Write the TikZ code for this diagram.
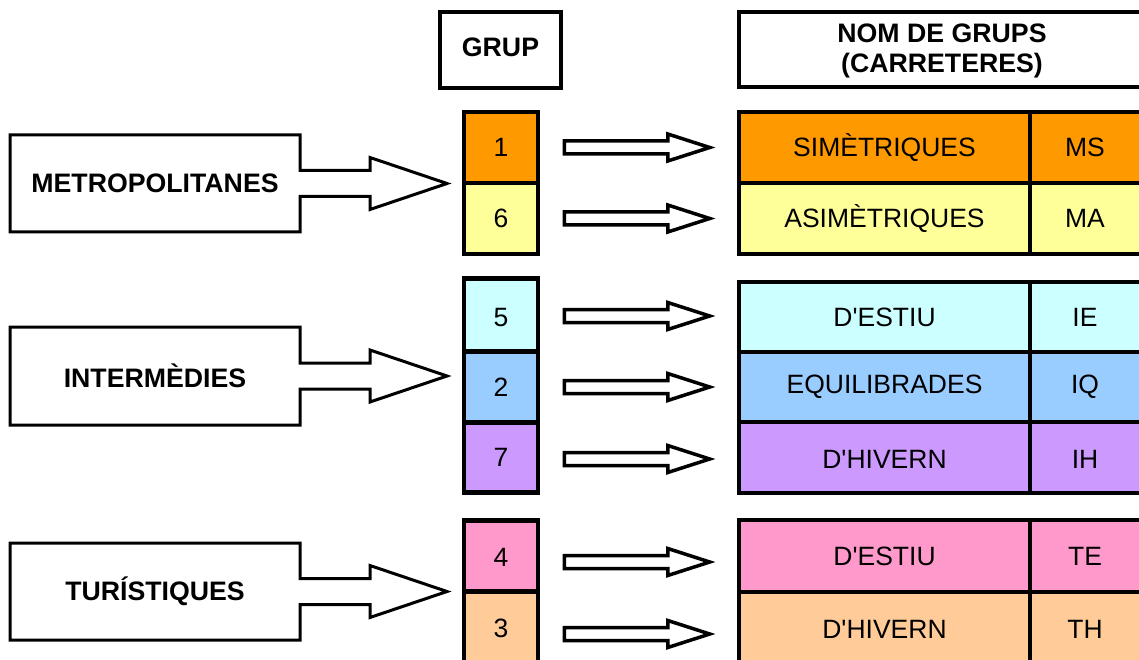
\documentclass[tikz,border=0pt]{standalone}
\usepackage{fontspec}
\setmainfont{Liberation Sans}[Ligatures=TeXOff]
\usetikzlibrary{calc}
\definecolor{cOrange}{HTML}{FF9900}
\definecolor{cYellow}{HTML}{FFFF99}
\definecolor{cCyan}{HTML}{CCFFFF}
\definecolor{cBlue}{HTML}{99CCFF}
\definecolor{cPurple}{HTML}{CC99FF}
\definecolor{cPink}{HTML}{FF99CC}
\definecolor{cPeach}{HTML}{FFCC99}
\tikzset{
  cell/.style={draw=black, line width=4.5pt, inner sep=0pt, font=\fontsize{26.5}{30}\selectfont},
  grpcell/.style={cell, minimum width=74pt},
  namecell/.style={cell, minimum width=291pt},
  codecell/.style={cell, minimum width=120pt},
  celltext/.style={font=\fontsize{26.5}{30}\selectfont, inner sep=0pt},
  headbox/.style={draw=black, line width=4pt, inner sep=0pt, align=center, font=\bfseries\fontsize{26.7}{30}\selectfont},
  callout/.style={draw=black, line width=3pt, fill=white, line join=miter},
  calltext/.style={font=\bfseries\fontsize{26.7}{30}\selectfont, inner sep=0pt},
  barr/.style={draw=black, line width=3.5pt, fill=white, line join=miter}
}
% block arrow from #1 to #2 (horizontal, same y as #1)
\newcommand\barrow[2]{%
  \draw[barr] let \p1=(#1), \p2=(#2) in
    (\x1,\y1+6.5pt) -- (\x2-42pt,\y1+6.5pt) -- (\x2-42pt,\y1+13.5pt) -- (\x2,\y1)
    -- (\x2-42pt,\y1-13.5pt) -- (\x2-42pt,\y1-6.5pt) -- (\x1,\y1-6.5pt) -- cycle;}
% callout box with arrow; #1 top y, #2 bottom y, #3 name
\newcommand\callout[3]{%
  \path let \n1={(#1+#2)/2} in
    coordinate (#3c) at (155,\n1);
  \draw[callout] let \n1={(#1+#2)/2} in
    (10,#1) -- (300,#1) -- (300,\n1-13) -- (370,\n1-13) -- (370,\n1-26)
    -- (447,\n1) -- (370,\n1+26) -- (370,\n1+13) -- (300,\n1+13) -- (300,#2)
    -- (10,#2) -- cycle;}
\begin{document}
\begin{tikzpicture}[x=1pt,y=-1pt]
\useasboundingbox (0,0) rectangle (1139,660);
\clip (0,0) rectangle (1139,660);
\fill[white] (0,0) rectangle (1139,660);

% headers
\node[headbox, minimum width=121pt, minimum height=76pt] (hgrup) at (500.5,50) {};
\node[calltext] (hgrupt) at (500.5,47.5) {GRUP};
\node[headbox, minimum width=420pt, minimum height=75pt] (hnom) at (949,50) {};
\node[font=\bfseries\fontsize{26.7}{30}\selectfont, align=center, inner sep=0pt] (hnomt) at (942,51) {NOM DE GRUPS\\(CARRETERES)};

% group number cells
\node[grpcell, fill=cOrange, minimum height=71pt] (g1) at (501,147.5) {1};
\node[grpcell, fill=cYellow, minimum height=71pt] (g6) at (501,218.5) {6};
\node[grpcell, fill=cCyan,   minimum height=73pt] (g5) at (501,315) {};
\node[celltext] at (501,318) {5};
\node[grpcell, fill=cBlue,   minimum height=71pt] (g2) at (501,387) {2};
\node[grpcell, fill=cPurple, minimum height=70pt] (g7) at (501,457.5) {7};
\node[grpcell, fill=cPink,   minimum height=71pt] (g4) at (501,556) {};
\node[celltext] at (501,557) {4};
\node[grpcell, fill=cPeach,  minimum height=72pt] (g3) at (501,628) {3};

% name cells
\node[namecell, fill=cOrange, minimum height=71pt] (n1) at (884.5,147.5) {SIMÈTRIQUES};
\node[namecell, fill=cYellow, minimum height=71pt] (n6) at (884.5,218.5) {ASIMÈTRIQUES};
\node[namecell, fill=cCyan,   minimum height=70pt] (n5) at (884.5,317) {D'ESTIU};
\node[namecell, fill=cBlue,   minimum height=70pt] (n2) at (884.5,387) {EQUILIBRADES};
\node[namecell, fill=cPurple, minimum height=71pt] (n7) at (884.5,457.5) {};
\node[celltext] (n7t) at (884.5,459) {D'HIVERN};
\node[namecell, fill=cPink,   minimum height=72pt] (n4) at (884.5,556) {D'ESTIU};
\node[namecell, fill=cPeach,  minimum height=71pt] (n3) at (884.5,627.5) {};
\node[celltext] (n3t) at (884.5,629) {D'HIVERN};

% code cells
\node[codecell, fill=cOrange, minimum height=71pt] (c1) at (1090,147.5) {};
\node[celltext] at (1085,147.5) {MS};
\node[codecell, fill=cYellow, minimum height=71pt] (c6) at (1090,218.5) {};
\node[celltext] at (1085,218.5) {MA};
\node[codecell, fill=cCyan,   minimum height=70pt] (c5) at (1090,317) {};
\node[celltext] at (1085,317) {IE};
\node[codecell, fill=cBlue,   minimum height=70pt] (c2) at (1090,387) {};
\node[celltext] at (1085,387) {IQ};
\node[codecell, fill=cPurple, minimum height=71pt] (c7) at (1090,457.5) {};
\node[celltext] at (1085,459) {IH};
\node[codecell, fill=cPink,   minimum height=72pt] (c4) at (1090,556) {};
\node[celltext] at (1085,556) {TE};
\node[codecell, fill=cPeach,  minimum height=71pt] (c3) at (1090,627.5) {};
\node[celltext] at (1085,629) {TH};

% small block arrows
\barrow{$(g1.east)+(24pt,0)$}{$(n1.west)+(-27pt,0)$}
\barrow{$(g6.east)+(24pt,0)$}{$(n6.west)+(-27pt,0)$}
\barrow{$(g5.east)+(24pt,-1pt)$}{$(n5.west)+(-27pt,0)$}
\barrow{$(g2.east)+(24pt,0)$}{$(n2.west)+(-27pt,0)$}
\barrow{$(g7.east)+(24pt,-1.5pt)$}{$(n7.west)+(-27pt,0)$}
\barrow{$(g4.east)+(24pt,-6pt)$}{$(n4.west)+(-27pt,0)$}
\barrow{$(g3.east)+(24pt,-6pt)$}{$(n3.west)+(-27pt,0)$}

% left callouts
\callout{135}{232}{met}
\node[calltext] (tmet) at (metc) {METROPOLITANES};
\callout{327}{425}{int}
\node[calltext] (tint) at (intc) {INTERMÈDIES};
\callout{543}{640}{tur}
\node[calltext] (ttur) at (turc) {TURÍSTIQUES};
\end{tikzpicture}
\end{document}
